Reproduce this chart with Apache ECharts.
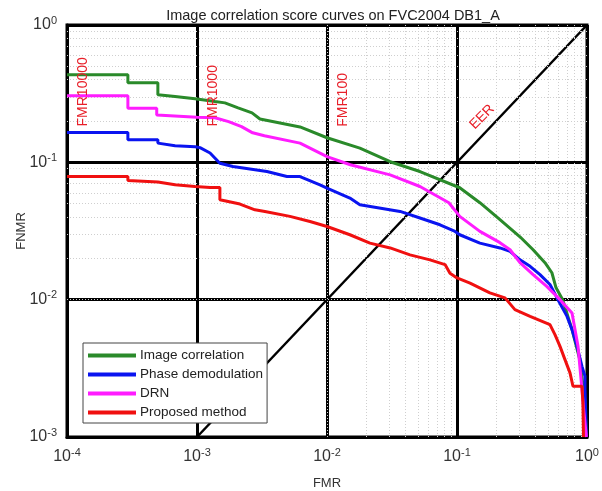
<!DOCTYPE html>
<html>
<head>
<meta charset="utf-8">
<script src="https://cdn.jsdelivr.net/npm/echarts@6/dist/echarts.min.js"></script>
<style>
  html, body { margin: 0; padding: 0; background: #fff; }
  #chart { width: 602px; height: 491px; }
</style>
</head>
<body>
<div id="chart"></div>
<script>
// FMR / FNMR score curves (log-log), one array of [FMR, FNMR] points per method
const imageCorrelation = [
  [1e-4, 0.435], [2.94e-4, 0.435], [2.94e-4, 0.38], [5.0e-4, 0.38], [5.0e-4, 0.31],
  [6.78e-4, 0.301], [9.66e-4, 0.29], [1.375e-3, 0.277], [1.64e-3, 0.271],
  [2.07e-3, 0.249], [2.65e-3, 0.229], [3.05e-3, 0.207], [6.2e-3, 0.181],
  [1e-2, 0.151], [0.0179, 0.127], [0.0306, 0.101], [0.0519, 0.0857],
  [0.105, 0.0653], [0.15, 0.0508], [0.214, 0.0382], [0.305, 0.0287],
  [0.385, 0.0231], [0.475, 0.0186], [0.537, 0.0157], [0.578, 0.0122],
  [0.65, 0.01], [0.767, 0.00605], [0.88, 0.00366], [0.96, 0.00187], [0.99, 0.001]
];
const phaseDemodulation = [
  [1e-4, 0.165], [2.94e-4, 0.165], [2.94e-4, 0.146], [5.0e-4, 0.146], [5.0e-4, 0.138],
  [6.78e-4, 0.132], [9.66e-4, 0.130], [1.055e-3, 0.128], [1.26e-3, 0.117],
  [1.5e-3, 0.0986], [1.89e-3, 0.0932], [3.45e-3, 0.0857], [4.92e-3, 0.0788],
  [6.2e-3, 0.0788], [8.83e-3, 0.0686], [1e-2, 0.0649], [0.015, 0.0549],
  [0.0179, 0.0491], [0.0365, 0.0439], [0.0519, 0.0393], [0.074, 0.0351],
  [0.0966, 0.0314], [0.105, 0.0297], [0.15, 0.0258], [0.214, 0.0238],
  [0.256, 0.0225], [0.305, 0.0195], [0.365, 0.0175], [0.435, 0.0152],
  [0.519, 0.0129], [0.598, 0.01], [0.702, 0.00756], [0.767, 0.00605],
  [0.838, 0.00457], [0.915, 0.00327], [0.965, 0.00277], [0.965, 0.00221],
  [0.99, 0.001]
];
const drn = [
  [1e-4, 0.305], [2.94e-4, 0.305], [2.94e-4, 0.248], [4.9e-4, 0.248], [4.9e-4, 0.221],
  [1e-3, 0.213], [1.375e-3, 0.211], [1.75e-3, 0.198], [2.2e-3, 0.182],
  [2.68e-3, 0.164], [3.3e-3, 0.156], [6.2e-3, 0.138], [1e-2, 0.110],
  [0.0151, 0.096], [0.0306, 0.081], [0.0519, 0.0667], [0.0866, 0.0508],
  [0.105, 0.0404], [0.15, 0.0314], [0.214, 0.026], [0.256, 0.0231],
  [0.305, 0.0186], [0.385, 0.0152], [0.49, 0.0125], [0.62, 0.01],
  [0.767, 0.008], [0.853, 0.00457], [0.9, 0.00263], [0.948, 0.0015], [0.99, 0.001]
];
const proposedMethod = [
  [1e-4, 0.0788], [2.94e-4, 0.0788], [2.94e-4, 0.0738], [5.0e-4, 0.072],
  [6.78e-4, 0.0686], [9.66e-4, 0.0667], [1.26e-3, 0.0655], [1.5e-3, 0.0655],
  [1.5e-3, 0.0534], [2.14e-3, 0.0497], [2.79e-3, 0.0451], [3.33e-3, 0.0439],
  [5.19e-3, 0.0404], [7.4e-3, 0.0371], [1e-2, 0.0341], [0.015, 0.0297],
  [0.0214, 0.0258], [0.0306, 0.0238], [0.0435, 0.0212], [0.062, 0.0195],
  [0.0809, 0.018], [0.0883, 0.0156], [0.1, 0.0144], [0.126, 0.0132],
  [0.179, 0.0112], [0.234, 0.0103], [0.279, 0.00846], [0.365, 0.00756],
  [0.519, 0.00658], [0.567, 0.00556], [0.62, 0.00457], [0.677, 0.00366],
  [0.74, 0.00293], [0.78, 0.00234], [0.915, 0.00234], [0.93, 0.00178], [0.94, 0.001]
];

const seriesNames = ['Image correlation', 'Phase demodulation', 'DRN', 'Proposed method'];
const seriesColors = ['#2a8a2a', '#0a14f0', '#ff1cff', '#f01010'];
const seriesData = [imageCorrelation, phaseDemodulation, drn, proposedMethod];

// equal error rate reference line
const eerLine = [[1e-3, 1e-3], [1, 1]];

// red annotations: [text, FMR, FNMR, rotation in degrees]
const annotations = [
  ['FMR10000', 1.33e-4, 0.326, 90],
  ['FMR1000', 1.33e-3, 0.305, 90],
  ['FMR100', 1.33e-2, 0.285, 90],
  ['EER', 0.156, 0.214, 45]
];

const titleText = 'Image correlation score curves on FVC2004 DB1_A';
const xName = 'FMR';
const yName = 'FNMR';

// dotted minor grid at 2..9 within each decade
const minorX = [], minorY = [];
for (let e = -4; e < 0; e++) {
  for (let m = 2; m <= 9; m++) {
    minorX.push(m * Math.pow(10, e));
    if (e >= -3) minorY.push(m * Math.pow(10, e));
  }
}

const powLabel = function (v) {
  const e = Math.round(Math.log10(v));
  return '{b|10}{s|' + e + '}';
};
const labelRich = {
  b: { fontSize: 16, color: '#333', fontFamily: 'Liberation Sans' },
  s: { fontSize: 11, color: '#333', fontFamily: 'Liberation Sans', padding: [0, 0, 9, 0] }
};

const chart = echarts.init(document.getElementById('chart'), null, { renderer: 'canvas' });

const series = seriesData.map(function (d, i) {
  return {
    name: seriesNames[i],
    type: 'line',
    data: d,
    showSymbol: false,
    symbol: 'none',
    lineStyle: { color: seriesColors[i], width: 3 },
    itemStyle: { color: seriesColors[i] },
    z: 5 + i,
    silent: true,
    animation: false
  };
});

series.unshift({
  name: 'minor-grid',
  type: 'line',
  data: [],
  silent: true,
  animation: false,
  z: 1,
  markLine: {
    silent: true,
    symbol: 'none',
    label: { show: false },
    animation: false,
    lineStyle: { color: '#cfcfcf', type: [1, 2], width: 1 },
    data: minorX.map(function (v) { return { xAxis: v }; })
      .concat(minorY.map(function (v) { return { yAxis: v }; }))
  }
});

series.push({
  name: 'EER-line',
  type: 'line',
  data: eerLine,
  symbol: 'none',
  silent: true,
  animation: false,
  lineStyle: { color: '#000', width: 2.5 },
  z: 4
});

chart.setOption({
  animation: false,
  backgroundColor: '#fff',
  title: {
    text: titleText,
    left: 328,
    top: 3,
    textAlign: 'center',
    textStyle: { fontSize: 14.5, fontWeight: 'normal', color: '#222', fontFamily: 'Liberation Sans' }
  },
  grid: {
    left: 67, right: 15, top: 25, bottom: 54,
    containLabel: false,
    outerBoundsMode: 'none',
    show: true, borderColor: '#000', borderWidth: 3, backgroundColor: 'transparent'
  },
  legend: {
    data: seriesNames,
    orient: 'vertical',
    left: 83,
    top: 343,
    icon: 'rect',
    itemWidth: 48,
    itemHeight: 4,
    itemGap: 4,
    padding: [5, 4, 3, 5],
    backgroundColor: '#fff',
    borderColor: '#444',
    borderWidth: 1,
    borderRadius: 0,
    selectedMode: false,
    textStyle: { fontSize: 13.5, color: '#222', fontFamily: 'Liberation Sans', lineHeight: 15, padding: [0, 0, 0, -1] },
    z: 20
  },
  xAxis: {
    type: 'log',
    logBase: 10,
    min: 1e-4,
    max: 1,
    name: xName,
    nameLocation: 'middle',
    nameGap: 40,
    nameTextStyle: { fontSize: 13, color: '#333', fontFamily: 'Liberation Sans' },
    axisLine: { show: true, lineStyle: { color: '#000', width: 3 } },
    axisTick: { show: false },
    splitLine: { show: true, lineStyle: { color: '#000', width: 3 } },
    axisLabel: { formatter: powLabel, rich: labelRich, margin: 10 }
  },
  yAxis: {
    type: 'log',
    logBase: 10,
    min: 1e-3,
    max: 1,
    name: yName,
    nameLocation: 'middle',
    nameGap: 39,
    nameMoveOverlap: false,
    nameRotate: 90,
    nameTextStyle: { fontSize: 13, color: '#333', fontFamily: 'Liberation Sans' },
    axisLine: { show: true, lineStyle: { color: '#000', width: 3 } },
    axisTick: { show: false },
    splitLine: { show: true, lineStyle: { color: '#000', width: 3 } },
    axisLabel: { formatter: powLabel, rich: labelRich, margin: 10 }
  },
  series: series
});

// place the red rotated annotations at their data positions
const graphics = annotations.map(function (a) {
  const p = chart.convertToPixel({ gridIndex: 0 }, [a[1], a[2]]);
  return {
    type: 'text',
    x: p[0],
    y: p[1],
    rotation: a[3] * Math.PI / 180,
    z: 30,
    silent: true,
    style: {
      text: a[0],
      fill: '#e8202a',
      fontSize: 14,
      fontFamily: 'Liberation Sans',
      align: 'center',
      verticalAlign: 'middle'
    }
  };
});
chart.setOption({ graphic: graphics });
</script>
</body>
</html>
